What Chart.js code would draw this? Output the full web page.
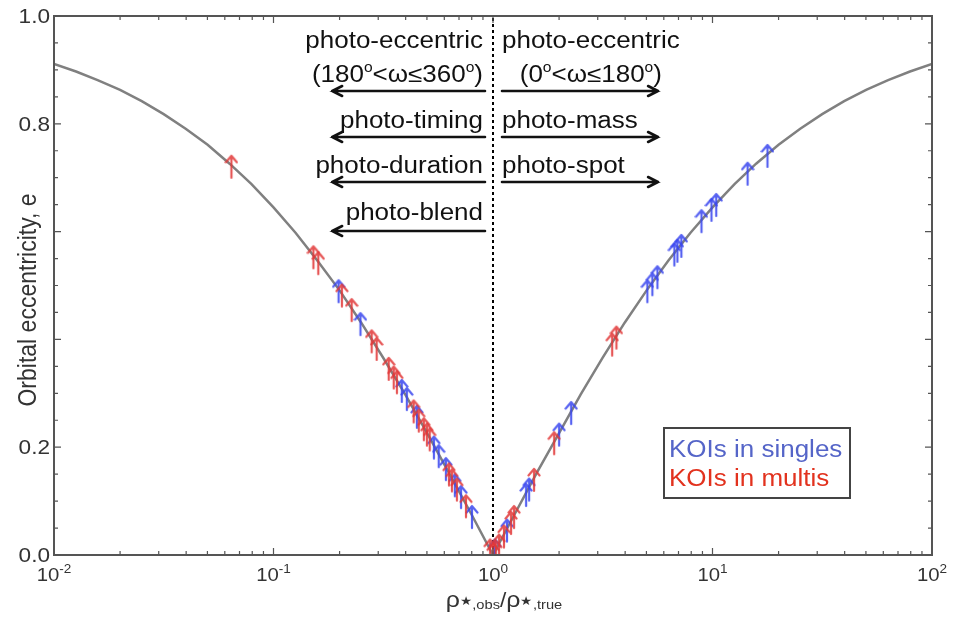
<!DOCTYPE html>
<html>
<head>
<meta charset="utf-8">
<script src="https://cdn.jsdelivr.net/npm/chart.js@4.4.1/dist/chart.umd.min.js"></script>
<style>
html, body { margin: 0; padding: 0; background: #fff; }
</style>
</head>
<body>
<canvas id="eccChart" width="961" height="617"></canvas>
<script>
// 理論曲線 (rho_obs/rho_true, e_min)
var curveX = [0.01, 0.0126, 0.0158, 0.02, 0.0251, 0.0316, 0.0398, 0.0501, 0.0631, 0.0794,
              0.1, 0.126, 0.158, 0.2, 0.251, 0.316, 0.398, 0.501, 0.631, 0.794,
              1, 1.26, 1.58, 2.0, 2.51, 3.16, 3.98, 5.01, 6.31, 7.94,
              10, 12.6, 15.8, 20, 25.1, 31.6, 39.8, 50.1, 63.1, 79.4, 100];
var curveE = [0.911, 0.897, 0.881, 0.863, 0.842, 0.818, 0.791, 0.761, 0.726, 0.688,
              0.645, 0.598, 0.547, 0.491, 0.431, 0.366, 0.298, 0.226, 0.152, 0.077,
              0, 0.077, 0.152, 0.226, 0.298, 0.366, 0.431, 0.491, 0.547, 0.598,
              0.645, 0.688, 0.726, 0.761, 0.791, 0.818, 0.842, 0.863, 0.881, 0.897, 0.911];

// KOIs in singles (青)
var singlesX = [0.198, 0.249, 0.384, 0.405, 0.450, 0.538, 0.566, 0.610, 0.670, 0.715, 0.802, 1.02,
                1.158, 1.415, 1.46, 2.0, 2.27, 5.05, 5.32, 5.61, 6.70, 6.92, 7.21, 8.91, 9.89, 10.4, 14.45, 17.8];
var singlesE = [0.493, 0.432, 0.308, 0.293, 0.260, 0.203, 0.187, 0.163, 0.133, 0.111, 0.074, 0.012,
                0.049, 0.115, 0.125, 0.227, 0.267, 0.493, 0.506, 0.519, 0.561, 0.568, 0.577, 0.623, 0.644, 0.653, 0.711, 0.744];

// KOIs in multis (赤)
var multisX = [0.0643, 0.152, 0.160, 0.205, 0.227, 0.280, 0.295, 0.335, 0.353, 0.365, 0.435, 0.459, 0.484,
               0.500, 0.515, 0.630, 0.650, 0.685, 0.753, 0.97, 1.0, 1.03, 1.065, 1.122, 1.208, 1.247,
               1.538, 1.90, 3.49, 3.65];
var multisE = [0.724, 0.556, 0.545, 0.485, 0.458, 0.400, 0.386, 0.349, 0.333, 0.324, 0.270, 0.253, 0.237,
               0.227, 0.218, 0.153, 0.142, 0.125, 0.094, 0.012, 0.005, 0.010, 0.021, 0.038, 0.063, 0.074,
               0.143, 0.211, 0.394, 0.407];

// 目盛り
var xTickVals = [0.01, 0.1, 1, 10, 100];
var xTickExps = ["-2", "-1", "0", "1", "2"];
var yTickVals = [0, 0.2, 0.8, 1.0];
var yTickLabels = ["0.0", "0.2", "0.8", "1.0"];

// 注記
var leftLabels = ["photo-eccentric", "(180^o<ω≤360^o)", "photo-timing", "photo-duration", "photo-blend"];
var rightLabels = ["photo-eccentric", "(0^o<ω≤180^o)", "photo-mass", "photo-spot"];
var legendLabels = ["KOIs in singles", "KOIs in multis"];

var SX = 1.13; // 元の図は横に少し伸びている
var FONT = "'Liberation Sans', Arial, sans-serif";
var BLUE = "rgba(58,70,238,0.85)";
var RED = "rgba(226,56,56,0.85)";

function toPts(xs, ys) {
    var p = [];
    for (var i = 0; i < xs.length; i++) p.push({x: xs[i], y: ys[i]});
    return p;
}

// 上向き矢印のマーカー
function makeArrow(color) {
    var c = document.createElement("canvas");
    c.width = 14; c.height = 30;
    var g = c.getContext("2d");
    g.strokeStyle = color;
    g.lineWidth = 2.2;
    g.lineCap = "round";
    g.lineJoin = "round";
    g.beginPath();
    g.moveTo(7, 28); g.lineTo(7, 6);
    g.moveTo(1.5, 12.5); g.lineTo(7, 6); g.lineTo(12.5, 12.5);
    g.stroke();
    return c;
}

// "^o" を上付きにする
function parseLabel(s, size) {
    var parts = s.split("^");
    var runs = [{t: parts[0], size: size}];
    for (var i = 1; i < parts.length; i++) {
        runs.push({t: parts[i].charAt(0), size: size * 0.6, dy: -size * 0.42});
        runs.push({t: parts[i].slice(1), size: size});
    }
    return runs;
}

function runsWidth(ctx, runs) {
    var w = 0;
    runs.forEach(function(r) {
        ctx.font = r.size + "px " + FONT;
        w += ctx.measureText(r.t).width;
    });
    return w;
}

function drawRuns(ctx, runs, x, y, align, color) {
    var w = runsWidth(ctx, runs) * SX;
    var x0 = align === "right" ? x - w : (align === "center" ? x - w / 2 : x);
    ctx.save();
    ctx.translate(x0, y);
    ctx.scale(SX, 1);
    ctx.fillStyle = color;
    ctx.textAlign = "left";
    ctx.textBaseline = "alphabetic";
    var cx = 0;
    runs.forEach(function(r) {
        ctx.font = r.size + "px " + FONT;
        ctx.fillText(r.t, cx, r.dy || 0);
        cx += ctx.measureText(r.t).width;
    });
    ctx.restore();
}

function drawHArrow(ctx, xFrom, xTip, y) {
    var dir = xTip < xFrom ? 1 : -1;
    ctx.save();
    ctx.strokeStyle = "#111";
    ctx.lineWidth = 2.6;
    ctx.lineCap = "round";
    ctx.beginPath();
    ctx.moveTo(xFrom, y); ctx.lineTo(xTip, y);
    ctx.moveTo(xTip + dir * 10, y - 5); ctx.lineTo(xTip, y); ctx.lineTo(xTip + dir * 10, y + 5);
    ctx.stroke();
    ctx.restore();
}

var decorPlugin = {
    id: "decor",
    afterDraw: function(chart) {
        var ctx = chart.ctx;
        var a = chart.chartArea;
        var xs = chart.scales.x, ys = chart.scales.y;

        // 枠
        ctx.save();
        ctx.strokeStyle = "#555";
        ctx.lineWidth = 2;
        ctx.strokeRect(a.left, a.top, a.right - a.left, a.bottom - a.top);

        // 内向きの目盛り
        ctx.lineWidth = 1.2;
        ctx.beginPath();
        for (var d = -2; d < 2; d++) {
            for (var m = 1; m < 10; m++) {
                var px = xs.getPixelForValue(m * Math.pow(10, d));
                var len = m === 1 ? 7 : 4;
                ctx.moveTo(px, a.bottom); ctx.lineTo(px, a.bottom - len);
                ctx.moveTo(px, a.top); ctx.lineTo(px, a.top + len);
            }
        }
        for (var k = 0; k <= 20; k++) {
            var py = ys.getPixelForValue(k * 0.05);
            var l2 = k % 4 === 0 ? 7 : 4;
            ctx.moveTo(a.left, py); ctx.lineTo(a.left + l2, py);
            ctx.moveTo(a.right, py); ctx.lineTo(a.right - l2, py);
        }
        ctx.stroke();
        ctx.restore();

        // x 目盛りラベル
        xTickVals.forEach(function(v, i) {
            drawRuns(ctx, [{t: "10", size: 18}, {t: xTickExps[i], size: 12, dy: -8}],
                     xs.getPixelForValue(v), a.bottom + 26, "center", "#333");
        });
        // y 目盛りラベル
        yTickVals.forEach(function(v, i) {
            drawRuns(ctx, [{t: yTickLabels[i], size: 20}], a.left - 4, ys.getPixelForValue(v) + 7, "right", "#333");
        });

        // x 軸タイトル
        drawRuns(ctx, [
            {t: "ρ", size: 22}, {t: "★", size: 12, dy: -2.5}, {t: ",obs", size: 13, dy: 2},
            {t: "/", size: 20}, {t: "ρ", size: 22}, {t: "★", size: 12, dy: -2.5}, {t: ",true", size: 13, dy: 2}
        ], 504, 607, "center", "#333");

        // y 軸タイトル
        ctx.save();
        ctx.translate(29, 300);
        ctx.rotate(-Math.PI / 2);
        ctx.scale(1, SX);
        ctx.font = "23px " + FONT;
        ctx.fillStyle = "#333";
        ctx.textAlign = "center";
        ctx.textBaseline = "middle";
        ctx.fillText("Orbital eccentricity, e", 0, 0);
        ctx.restore();

        // 注記 (rho=1 の線の左右)
        var x1 = xs.getPixelForValue(1);
        var leftY = [48, 82, 128, 173, 220];
        leftLabels.forEach(function(s, i) {
            drawRuns(ctx, parseLabel(s, 23), x1 - 10, a.top + leftY[i] - 16, "right", "#111");
        });
        var rightY = [48, 82, 128, 173];
        rightLabels.forEach(function(s, i) {
            if (i === 1) {
                var wTop = runsWidth(ctx, parseLabel(rightLabels[0], 23)) * SX;
                drawRuns(ctx, parseLabel(s, 23), x1 + 9 + wTop / 2, a.top + rightY[i] - 16, "center", "#111");
            } else {
                drawRuns(ctx, parseLabel(s, 23), x1 + 9, a.top + rightY[i] - 16, "left", "#111");
            }
        });
        var lTip = xs.getPixelForValue(0.185), rTip = xs.getPixelForValue(5.65);
        [91, 137, 182, 231].forEach(function(y) { drawHArrow(ctx, x1 - 8, lTip, y); });
        [91, 137, 182].forEach(function(y) { drawHArrow(ctx, x1 + 9, rTip, y); });

        // 凡例
        ctx.save();
        ctx.strokeStyle = "#444";
        ctx.lineWidth = 2;
        ctx.strokeRect(664, 428, 186, 70);
        ctx.restore();
        drawRuns(ctx, [{t: legendLabels[0], size: 23}], 669, 457, "left", "#5565c8");
        drawRuns(ctx, [{t: legendLabels[1], size: 23}], 669, 486, "left", "#e2321e");
    }
};

var ctx = document.getElementById("eccChart");
var eccChart = new Chart(ctx, {
    type: "scatter",
    data: {
        datasets: [{
            label: "curve",
            data: toPts(curveX, curveE),
            showLine: true,
            borderColor: "#808080",
            borderWidth: 2.5,
            pointRadius: 0,
            tension: 0,
            order: 3
        }, {
            label: "rho=1",
            data: [{x: 1, y: 0}, {x: 1, y: 1}],
            showLine: true,
            borderColor: "#000",
            borderWidth: 2,
            borderDash: [3, 3],
            pointRadius: 0,
            order: 4
        }, {
            label: legendLabels[0],
            data: toPts(singlesX, singlesE),
            pointStyle: makeArrow(BLUE),
            pointRadius: 8,
            clip: 0,
            order: 2
        }, {
            label: legendLabels[1],
            data: toPts(multisX, multisE),
            pointStyle: makeArrow(RED),
            pointRadius: 8,
            clip: 0,
            order: 1
        }]
    },
    options: {
        responsive: false,
        animation: false,
        events: [],
        layout: { padding: { left: 0, right: 29, top: 16, bottom: 0 } },
        plugins: {
            legend: { display: false },
            tooltip: { enabled: false }
        },
        scales: {
            x: {
                type: "logarithmic",
                min: 0.01,
                max: 100,
                ticks: { display: false },
                grid: { display: false },
                border: { display: false },
                afterFit: function(s) { s.height = 62; }
            },
            y: {
                min: 0,
                max: 1,
                ticks: { display: false },
                grid: { display: false },
                border: { display: false },
                afterFit: function(s) { s.width = 54; }
            }
        }
    },
    plugins: [decorPlugin]
});
</script>
</body>
</html>
